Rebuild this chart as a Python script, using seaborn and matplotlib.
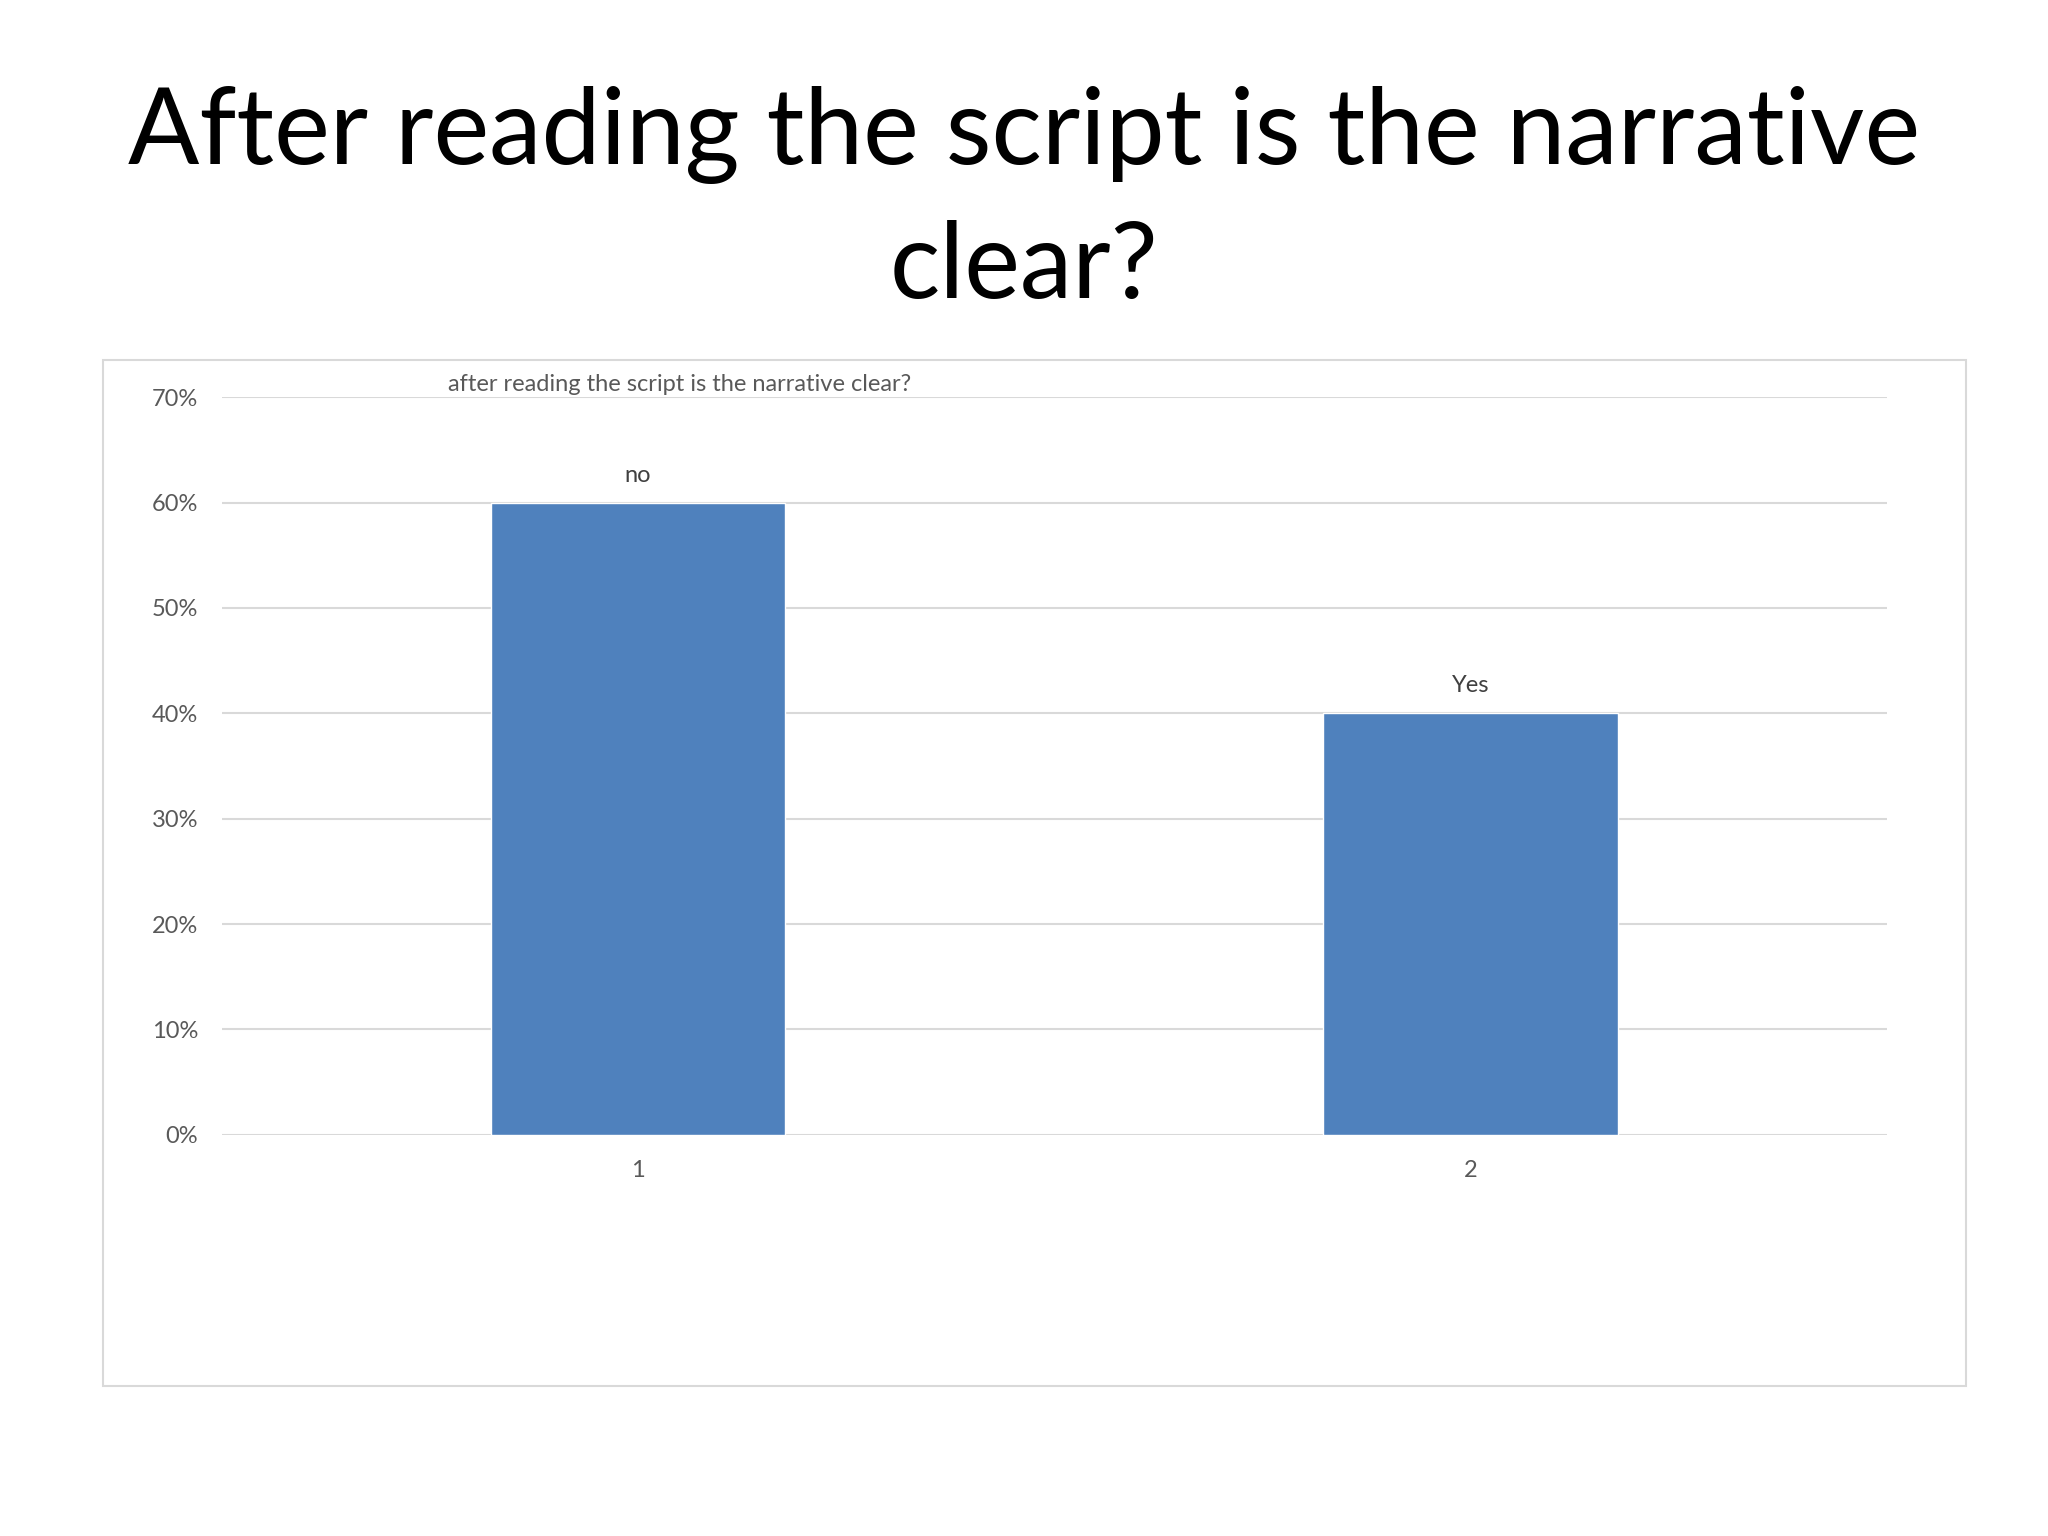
import matplotlib
matplotlib.use("Agg")
import matplotlib.pyplot as plt
import matplotlib.patches as mpatches
from matplotlib.ticker import PercentFormatter
import seaborn as sns
import pandas as pd

categories = ["1", "2"]
answers = ["no", "Yes"]
shares = [0.60, 0.40]

slide_title = "After reading the script is the narrative\nclear?"
chart_title = "after reading the script is the narrative clear?"

df = pd.DataFrame({"cat": categories, "share": shares, "answer": answers})

sns.set_theme(style="white")
plt.rcParams["font.family"] = ["Lato", "DejaVu Sans"]

fig = plt.figure(figsize=(20.48, 15.36), dpi=100)

# chart frame
fig.patches.append(mpatches.Rectangle((0.0503, 0.0979), 0.9097, 0.6676,
                                      transform=fig.transFigure, fill=False,
                                      edgecolor="#d9d9d9", linewidth=1.5))

fig.text(0.5, 0.869, slide_title, ha="center", va="center",
         fontsize=76, color="black", linespacing=1.46)

ax = fig.add_axes([0.1082, 0.2612, 0.8132, 0.4802])
sns.barplot(data=df, x="cat", y="share", color="#4f81bd", width=0.354,
            saturation=1, ax=ax)

ax.set_ylim(0, 0.70)
ax.set_xlim(-0.5, 1.5)
ax.set_yticks([i / 10 for i in range(8)])
ax.yaxis.set_major_formatter(PercentFormatter(1.0, decimals=0))
ax.yaxis.grid(True, color="#d9d9d9", linewidth=1.5)
ax.set_axisbelow(True)
for s in ax.spines.values():
    s.set_visible(False)
ax.tick_params(axis="both", length=0, labelsize=17, colors="#595959")
ax.tick_params(axis="y", pad=17)
ax.tick_params(axis="x", pad=18)
ax.set_xlabel("")
ax.set_ylabel("")

# category names above the bars
for i, (v, lab) in enumerate(zip(shares, answers)):
    ax.text(i, v + 0.016, lab, ha="center", va="bottom", fontsize=17,
            color="#404040")

ax.text(0.05, 0.702, chart_title, ha="center", va="bottom", fontsize=17,
        color="#595959")

fig.savefig("out.png", dpi=100)
